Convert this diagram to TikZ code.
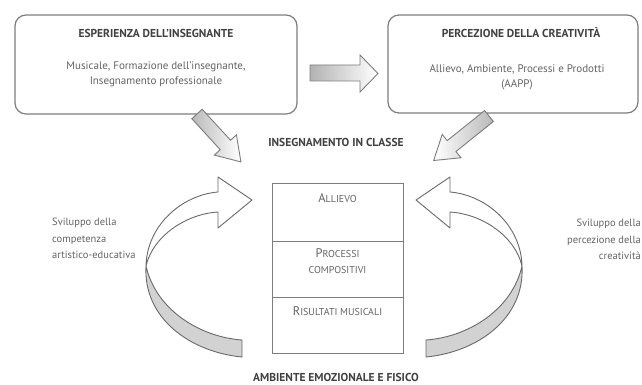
\documentclass[tikz,border=0pt]{standalone}
\usepackage{fontspec}
\setmainfont{PT Sans}
\usetikzlibrary{calc}
\definecolor{txt}{RGB}{100,100,100}
\definecolor{ttl}{RGB}{65,65,65}
\definecolor{edge}{RGB}{125,125,125}
\definecolor{band}{RGB}{210,210,210}
\newcommand{\fsc}[2]{{\fontsize{12.5}{14}\selectfont #1}{\fontsize{10}{12}\selectfont #2}}
\begin{document}
\begin{tikzpicture}[x=1pt,y=-1pt,
  bigbox/.style={draw=edge,line width=1.2pt,rounded corners=11pt,fill=white,inner sep=0pt},
  cellbox/.style={draw=edge,line width=1pt,inner sep=0pt},
  title/.style={font=\bfseries\fontsize{11.5}{13}\selectfont,text=ttl,inner sep=0pt},
  body/.style={font=\fontsize{11}{15}\selectfont,text=txt,align=center,inner sep=0pt},
  side/.style={font=\fontsize{10.5}{16.5}\selectfont,text=txt,inner sep=0pt},
  celltext/.style={text=txt,align=center,inner sep=0pt,font=\fontsize{11}{16}\selectfont},
  blk/.style={draw=edge,line width=0.9pt,line join=miter},
  ribbon/.style={draw=edge!85!black,line width=0.9pt,line join=round}
]
\path[use as bounding box,fill=white] (0,0) rectangle (642,385);

% top boxes
\node[bigbox,minimum width=282pt,minimum height=99pt] (exp) at (156,64.5) {};
\node[bigbox,minimum width=250pt,minimum height=98pt] (per) at (513,64) {};
\node[title] (expt) at (156,33) {ESPERIENZA DELL'INSEGNANTE};
\node[body] (expb) at (156,74.5) {Musicale, Formazione dell'insegnante,\\Insegnamento professionale};
\node[title] (pert) at (521,33) {PERCEZIONE DELLA CREATIVITÀ};
\node[body] (perb) at (517,77.5) {Allievo, Ambiente, Processi e Prodotti\\(AAPP)};

% horizontal block arrow
\draw[blk,left color=gray!60,right color=white] (310,65) -- (360,65) -- (360,55) -- (378,73.5) -- (360,92) -- (360,81) -- (310,81) -- cycle;

% diagonal block arrows
\draw[blk,left color=gray!55,right color=white,shift={(197,114)},rotate=-47.5]
  (0,-7) -- (42,-7) -- (42,-15) -- (65,0) -- (42,15) -- (42,7) -- (0,7) -- cycle;
\draw[blk,left color=white,right color=gray!55,shift={(489,116)},rotate=-141.2]
  (0,-7) -- (48,-7) -- (48,-15) -- (71,0) -- (48,15) -- (48,7) -- (0,7) -- cycle;

\node[title] (cls) at (336,142) {INSEGNAMENTO IN CLASSE};

% centre box
\node[cellbox,minimum width=131pt,minimum height=170pt] (core) at (337.5,268) {};
\draw[edge,line width=1pt] (272,241) -- (403,241);
\draw[edge,line width=1pt] (272,297) -- (403,297);
\node[celltext] (c1) at (337.5,198) {\fsc{A}{LLIEVO}};
\node[celltext] (c2) at (337.5,261.5) {\fsc{P}{ROCESSI}\\{\fontsize{10}{12}\selectfont COMPOSITIVI}};
\node[celltext] (c3) at (337.5,311) {\fsc{R}{ISULTATI MUSICALI}};

% left curved arrow
\draw[ribbon,fill=white] (146,266) .. controls (147,225) and (182,195) .. (218,192)
  -- (218,177) -- (252,200) -- (218,228) -- (218,212)
  .. controls (186,214) and (153,236) .. (146,266) -- cycle;
\draw[ribbon,fill=band] (146,266) .. controls (143,318) and (190,352) .. (242,357)
  -- (242,340) .. controls (200,337) and (156,310) .. (146,266) -- cycle;

% right curved arrow (mirror)
\begin{scope}[shift={(668,0)},xscale=-1]
\draw[ribbon,fill=white] (146,266) .. controls (147,225) and (182,195) .. (218,192)
  -- (218,177) -- (252,200) -- (218,228) -- (218,212)
  .. controls (186,214) and (153,236) .. (146,266) -- cycle;
\draw[ribbon,fill=band] (146,266) .. controls (143,318) and (190,352) .. (242,357)
  -- (242,340) .. controls (200,337) and (156,310) .. (146,266) -- cycle;
\end{scope}

% side labels
\node[side,align=left,anchor=north west] (sl) at (52,218) {Sviluppo della\\competenza\\artistico-educativa};
\node[side,align=right,anchor=north east] (sr) at (641,219) {Sviluppo della\\percezione della\\creatività};

\node[title] (amb) at (336,377) {AMBIENTE EMOZIONALE E FISICO};
\end{tikzpicture}
\end{document}
